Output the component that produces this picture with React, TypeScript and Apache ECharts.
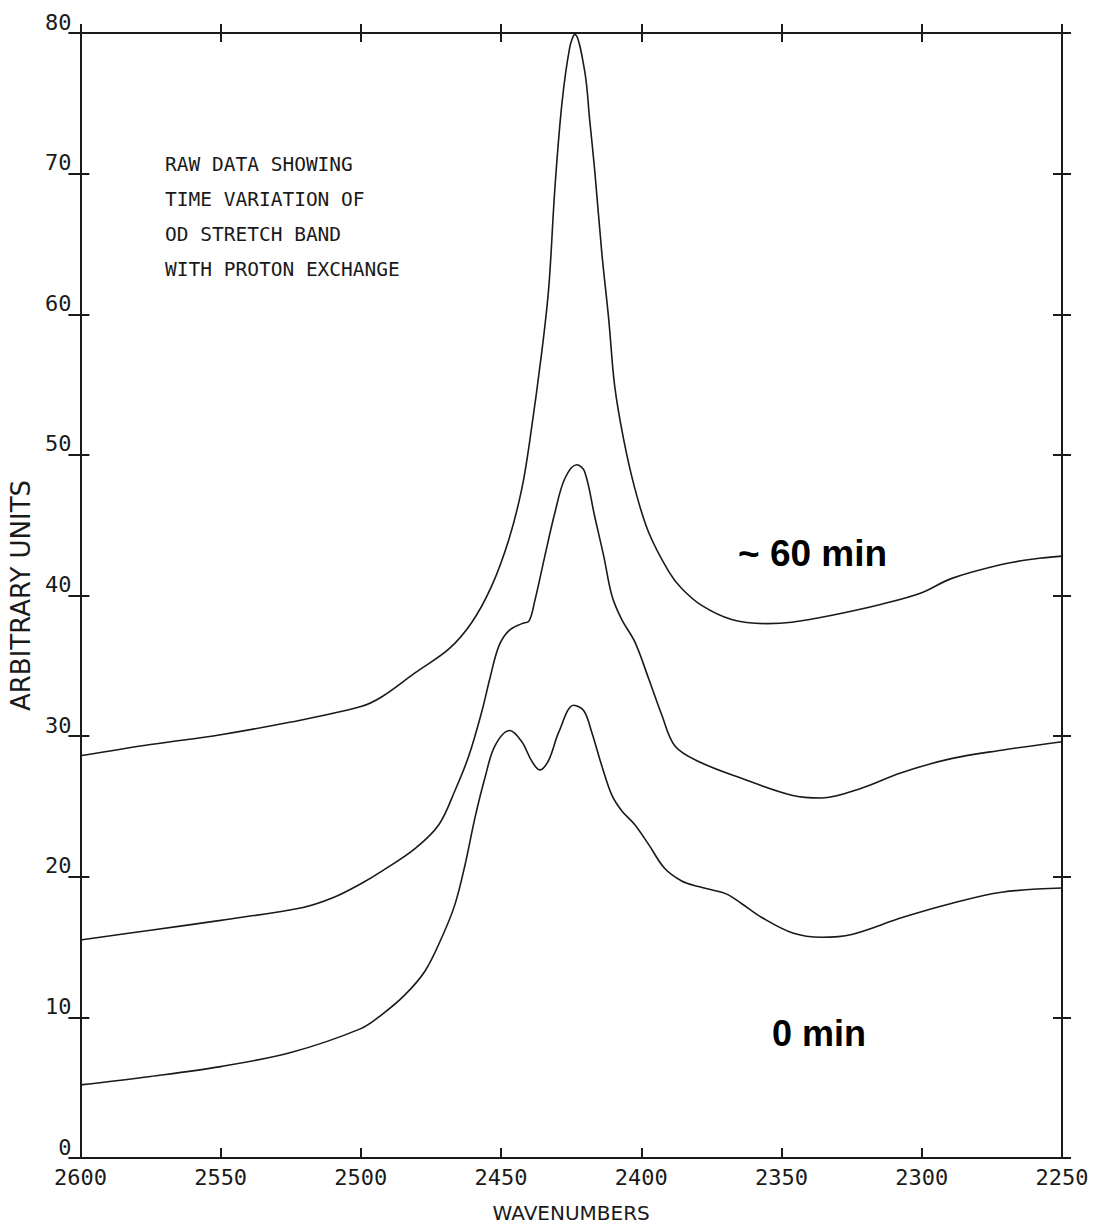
import React, { useEffect, useRef } from "react";
import * as echarts from "echarts";

// ---- data (wavenumber, arbitrary units) ----
const wn60 = [2600, 2575, 2550, 2525, 2500, 2492.5, 2480.7, 2468.6, 2460.4, 2453.3, 2447.2, 2442.6, 2439.7, 2435.5, 2433.0, 2430.8, 2428.3, 2425.5, 2423.7, 2420.2, 2418.4, 2416.6, 2414.1, 2411.6, 2409.5, 2406.3, 2402.3, 2397.4, 2390.2, 2385.6, 2378.5, 2367.8, 2355, 2346.4, 2332, 2314, 2300, 2289.5, 2271.6, 2260, 2250];
const val60 = [28.6, 29.4, 30.1, 31.0, 32.1, 32.8, 34.5, 36.2, 38.1, 40.7, 44.0, 47.6, 51.1, 57.3, 61.9, 69.0, 75.0, 79.0, 79.9, 77.3, 73.8, 70.2, 64.4, 59.6, 54.9, 51.1, 47.6, 44.5, 41.7, 40.5, 39.3, 38.3, 38.0, 38.1, 38.6, 39.4, 40.2, 41.2, 42.2, 42.6, 42.8];

const wnMid = [2600, 2575, 2550, 2521, 2510, 2500, 2492.5, 2480.7, 2472.2, 2466.5, 2461.5, 2456.8, 2454, 2450.8, 2447.2, 2442.6, 2440, 2438, 2434.4, 2430.8, 2427.3, 2423, 2420.2, 2416.6, 2413.4, 2410.5, 2407, 2402.3, 2397.4, 2392.7, 2388, 2379.6, 2364.3, 2346.4, 2335.8, 2321.5, 2307.3, 2289.5, 2271.6, 2250];
const valMid = [15.5, 16.2, 16.9, 17.8, 18.5, 19.5, 20.4, 22.0, 23.7, 26.1, 28.6, 31.8, 34.1, 36.4, 37.5, 38.0, 38.2, 39.6, 42.8, 45.9, 48.3, 49.3, 48.8, 45.6, 42.8, 40.0, 38.3, 36.7, 34.1, 31.5, 29.3, 28.2, 27.0, 25.8, 25.6, 26.3, 27.4, 28.4, 29.0, 29.6];

const wn0 = [2600, 2575, 2550, 2525, 2500, 2492.5, 2484.3, 2477.1, 2471.1, 2466.5, 2462.9, 2459.3, 2455.8, 2452.2, 2446.9, 2442.6, 2439, 2436.2, 2433, 2429.4, 2424.1, 2420.5, 2417.7, 2414.1, 2410.5, 2407, 2402.3, 2397.4, 2391.7, 2385.6, 2379.6, 2370, 2364.3, 2357, 2346, 2335.8, 2325, 2307, 2289.5, 2271.6, 2250];
const val0 = [5.2, 5.8, 6.5, 7.5, 9.2, 10.2, 11.6, 13.3, 15.7, 18.0, 20.8, 24.2, 27.0, 29.3, 30.4, 29.6, 28.2, 27.6, 28.3, 30.3, 32.2, 31.8, 30.3, 27.9, 25.8, 24.7, 23.7, 22.3, 20.6, 19.7, 19.3, 18.8, 18.1, 17.1, 16.0, 15.7, 15.9, 17.1, 18.1, 18.9, 19.2];

const annotationLines = ["RAW DATA SHOWING", "TIME VARIATION OF", "OD STRETCH BAND", "WITH PROTON EXCHANGE"];
const label60 = "~ 60 min";
const label0 = "0 min";

const INK = "#1a1a1a";
const MONO = "DejaVu Sans Mono";

const pairs = (xs: number[], ys: number[]) => xs.map((x, i) => [x, ys[i]]);

export default function App() {
  const ref = useRef<HTMLDivElement>(null);
  useEffect(() => {
    if (!ref.current) return;
    const chart = echarts.init(ref.current, null, { renderer: "svg" });
    const axisLine = { show: true, onZero: false, lineStyle: { color: INK, width: 2 } };
    const xBase = { type: "value", min: 2250, max: 2600, interval: 50, inverse: true, splitLine: { show: false } };
    const yBase = { type: "value", min: 0, max: 80, interval: 10, splitLine: { show: false } };
    const lineSeries = (name: string, data: number[][]) => ({
      name,
      type: "line",
      data,
      xAxisIndex: 0,
      yAxisIndex: 0,
      showSymbol: false,
      smooth: 0.35,
      lineStyle: { color: INK, width: 1.6 },
      z: 5,
    });
    chart.setOption({
      animation: false,
      backgroundColor: "#ffffff",
      grid: { left: 78, right: 35, top: 33, bottom: 67, containLabel: false },
      xAxis: [
        {
          ...xBase,
          position: "bottom",
          axisLine,
          axisTick: { show: true, inside: true, length: 10, lineStyle: { color: INK, width: 2 } },
          axisLabel: {
            color: INK,
            fontFamily: MONO,
            fontSize: 22,
            margin: 8,
            formatter: (v: number) => String(v),
          },
          name: "WAVENUMBERS",
          nameLocation: "middle",
          nameGap: 45,
          nameTextStyle: { color: INK, fontFamily: "DejaVu Sans", fontSize: 20 },
        },
        {
          ...xBase,
          position: "top",
          axisLine,
          axisTick: { show: true, inside: true, length: 9, lineStyle: { color: INK, width: 2 } },
          axisLabel: { show: false },
        },
        {
          ...xBase,
          position: "top",
          axisLine,
          axisTick: { show: true, inside: false, length: 9, lineStyle: { color: INK, width: 2 } },
          axisLabel: { show: false },
        },
      ],
      yAxis: [
        {
          ...yBase,
          position: "left",
          axisLine,
          axisTick: { show: true, inside: false, length: 12, lineStyle: { color: INK, width: 2 } },
          axisLabel: {
            color: INK,
            fontFamily: MONO,
            fontSize: 22,
            margin: 9,
            verticalAlign: "bottom",
            formatter: (v: number) => String(v),
          },
          name: "ARBITRARY UNITS",
          nameLocation: "middle",
          nameGap: 40,
          nameTextStyle: { color: INK, fontFamily: "DejaVu Sans", fontSize: 26 },
        },
        {
          ...yBase,
          position: "left",
          axisLine,
          axisTick: { show: true, inside: true, length: 9, lineStyle: { color: INK, width: 2 } },
          axisLabel: { show: false },
        },
        {
          ...yBase,
          position: "right",
          axisLine,
          axisTick: { show: true, inside: true, length: 9, lineStyle: { color: INK, width: 2 } },
          axisLabel: { show: false },
        },
        {
          ...yBase,
          position: "right",
          axisLine,
          axisTick: { show: true, inside: false, length: 9, lineStyle: { color: INK, width: 2 } },
          axisLabel: { show: false },
        },
      ],
      series: [
        lineSeries("~60 min", pairs(wn60, val60)),
        lineSeries("intermediate", pairs(wnMid, valMid)),
        lineSeries("0 min", pairs(wn0, val0)),
      ],
      graphic: [
        {
          type: "text",
          left: 165,
          top: 147,
          style: {
            text: annotationLines.join("\n"),
            fill: INK,
            font: `19.5px "${MONO}"`,
            lineHeight: 35,
          },
        },
        {
          type: "text",
          left: 738,
          top: 535,
          style: { text: label60, fill: "#000", font: 'bold 37px "Liberation Sans"' },
        },
        {
          type: "text",
          left: 772,
          top: 1015,
          style: { text: label0, fill: "#000", font: 'bold 36px "Liberation Sans"' },
        },
      ],
    });
    return () => chart.dispose();
  }, []);
  return (
    <div
      ref={ref}
      style={{ position: "fixed", left: 0, top: 0, width: 1097, height: 1228, background: "#fff" }}
    />
  );
}
